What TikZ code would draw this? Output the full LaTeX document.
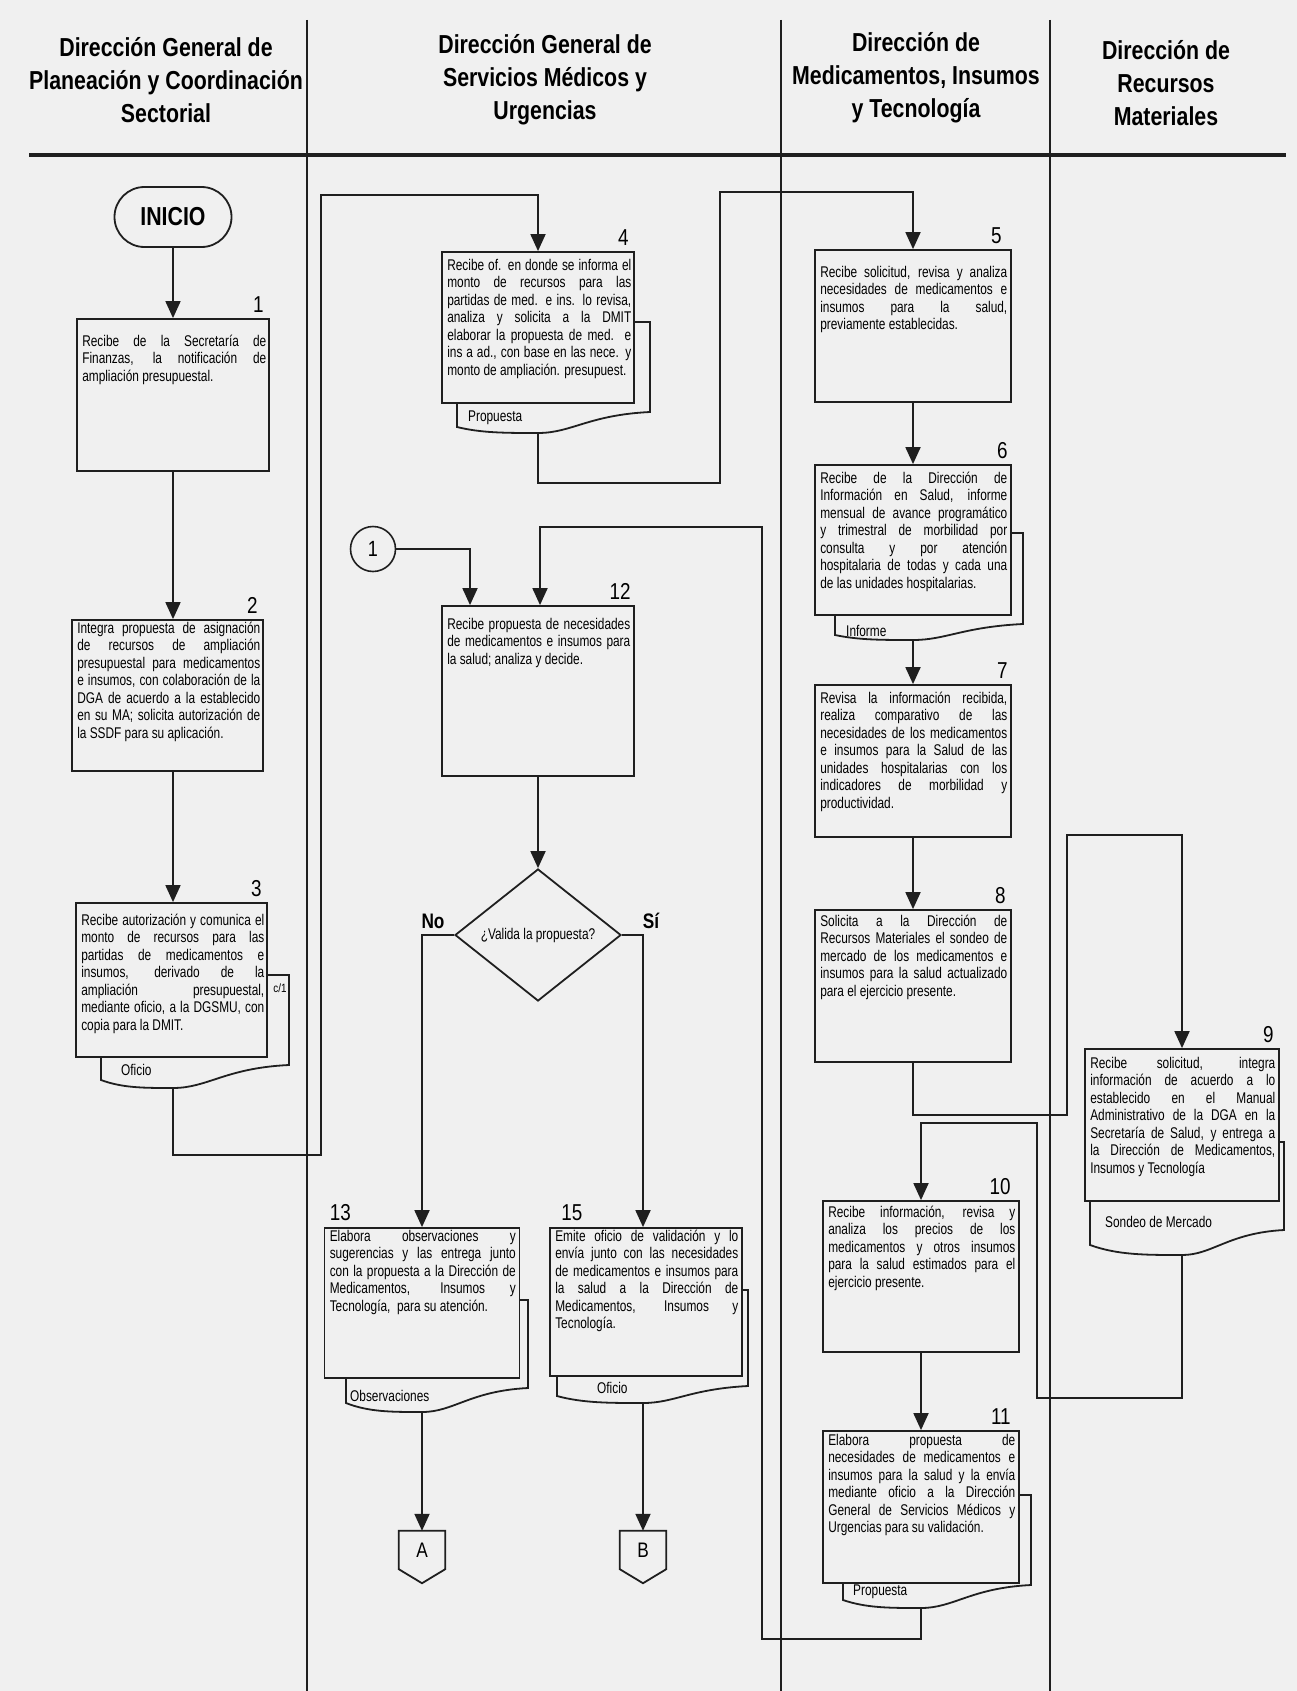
\documentclass[tikz,border=0pt]{standalone}
\usepackage{fontspec}
\setmainfont{Liberation Sans}
\newfontfamily\nf[FakeStretch=0.82]{Liberation Sans}
\newfontfamily\nfb[FakeStretch=0.765]{Liberation Sans}
\usetikzlibrary{arrows.meta,shapes.geometric}
\definecolor{lc}{gray}{0.12}
\definecolor{bg}{gray}{0.94}
\newcommand\bodyfont{\nfb\fontsize{15.5}{17.5}\selectfont}
\newcommand\jline[1]{\hbox to \hsize{\strut\spaceskip=0.21em plus 1fill minus 0.04em\relax #1}}
\newcommand\lastl[1]{\hbox{\strut #1}}
\newcommand\btext[4]{\node[txt] (#1t) at ([shift={(6,#2-12.25)}]#1.north west) {\vbox{\hsize=#3pt\relax #4}};}
\newcommand\docat[3]{\def\dbxr{#1}\def\dbby{#2}\def\dcx{#3}}
% name, dl, dr, dt, drb, dlb, dip
\newcommand\docshape[7]{%
  \draw[docl] (\dbxr,#4) -- (#3,#4) -- (#3,#5)
    .. controls ({\dcx+0.45*(#3-\dcx)},{#5+3}) and ({\dcx+0.3*(#3-\dcx)},#7) .. (\dcx,#7) coordinate (#1)
    .. controls ({\dcx-0.4*(\dcx-#2)},#7) and ({#2+0.3*(\dcx-#2)},#7) .. (#2,#6) -- (#2,\dbby);}
\tikzset{
  box/.style={draw=lc, line width=1.8pt, inner sep=0pt},
  txt/.style={inner sep=0pt, anchor=north west, font=\bodyfont},
  num/.style={inner sep=0pt, font=\nf\fontsize{23}{26}\selectfont},
  lbl/.style={inner sep=0pt, anchor=west, font=\bodyfont},
  head/.style={inner sep=0pt, align=center, font=\nf\bfseries\fontsize{26}{33}\selectfont},
  conn/.style={draw=lc, line width=1.8pt},
  arr/.style={conn, -{Triangle[length=17pt,width=15pt]}},
  docl/.style={draw=lc, line width=1.8pt},
  lane/.style={draw=lc, line width=1.5pt},
}
\begin{document}
\begin{tikzpicture}[x=1pt,y=-1pt]
\fill[bg] (0,0) rectangle (1297,1691);
\useasboundingbox (0,0) rectangle (1297,1691);

% lanes and header
\draw[lane] (307,20) -- (307,1691);
\draw[lane] (781,20) -- (781,1691);
\draw[lane] (1050,20) -- (1050,1691);
\draw[draw=lc, line width=4pt] (29,155) -- (1286,155);
\node[head] (h1) at (166,80) {Dirección General de\\Planeación y Coordinación\\Sectorial};
\node[head] (h2) at (545,80) {Dirección General de\\Servicios Médicos y\\Urgencias};
\node[head] (h3) at (916,78) {Dirección de\\Medicamentos, Insumos\\y Tecnología};
\node[head] (h4) at (1166,83) {Dirección de\\Recursos\\Materiales};

% start
\node[draw=lc, line width=1.8pt, rounded corners=30pt, minimum width=117pt, minimum height=60pt, inner sep=0pt, font=\nf\bfseries\fontsize{26}{30}\selectfont] (inicio) at (173,217) {INICIO};

% boxes
\node[box, minimum width=192pt, minimum height=152pt] (b1) at (173,395) {};
\node[box, minimum width=191pt, minimum height=151pt] (b2) at (167.5,695.5) {};
\node[box, minimum width=191pt, minimum height=154pt] (b3) at (171.5,980) {};
\node[box, minimum width=192pt, minimum height=151pt] (b4) at (538,327.5) {};
\node[box, minimum width=196pt, minimum height=152pt] (b5) at (913,326) {};
\node[box, minimum width=196pt, minimum height=150pt] (b6) at (913,540) {};
\node[box, minimum width=196pt, minimum height=152pt] (b7) at (913,761) {};
\node[box, minimum width=196pt, minimum height=152pt] (b8) at (913,986) {};
\node[box, minimum width=194pt, minimum height=152pt] (b9) at (1182,1125) {};
\node[box, minimum width=196pt, minimum height=151pt] (b10) at (921,1276.5) {};
\node[box, minimum width=196pt, minimum height=152pt] (b11) at (921,1507) {};
\node[box, minimum width=192pt, minimum height=170pt] (b12) at (538,691) {};
\node[box, minimum width=195pt, minimum height=150pt] (b13) at (422,1303) {};
\node[box, minimum width=192pt, minimum height=148pt] (b15) at (646,1302) {};

% numbers
\node[num, anchor=south east] (n1) at ([shift={(-6,-5)}]b1.north east) {1};
\node[num, anchor=south east] (n2) at ([shift={(-6,-5)}]b2.north east) {2};
\node[num, anchor=south east] (n3) at ([shift={(-6,-5)}]b3.north east) {3};
\node[num, anchor=south east] (n4) at ([shift={(-6,-5)}]b4.north east) {4};
\node[num, anchor=south east] (n5) at ([shift={(-10,-5)}]b5.north east) {5};
\node[num, anchor=south east] (n6) at ([shift={(-4,-5)}]b6.north east) {6};
\node[num, anchor=south east] (n7) at ([shift={(-4,-5)}]b7.north east) {7};
\node[num, anchor=south east] (n8) at ([shift={(-6,-5)}]b8.north east) {8};
\node[num, anchor=south east] (n9) at ([shift={(-6,-5)}]b9.north east) {9};
\node[num, anchor=south east] (n10) at ([shift={(-9,-5)}]b10.north east) {10};
\node[num, anchor=south east] (n11) at ([shift={(-9,-5)}]b11.north east) {11};
\node[num, anchor=south east] (n12) at ([shift={(-4,-5)}]b12.north east) {12};
\node[num, anchor=south west] (n13) at ([shift={(6,-6)}]b13.north west) {13};
\node[num, anchor=south west] (n15) at ([shift={(12,-6)}]b15.north west) {15};

% texts
\btext{b1}{28}{184}{\jline{Recibe de la Secretaría de}\jline{Finanzas, la notificación de}\lastl{ampliación presupuestal.}}
\btext{b2}{14}{183}{\jline{Integra propuesta de asignación}\jline{de recursos de ampliación}\jline{presupuestal para medicamentos}\jline{e insumos, con colaboración de la}\jline{DGA de acuerdo a la establecido}\jline{en su MA; solicita autorización de}\lastl{la SSDF para su aplicación.}}
\btext{b3}{23}{183}{\jline{Recibe autorización y comunica el}\jline{monto de recursos para las}\jline{partidas de medicamentos e}\jline{insumos, derivado de la}\jline{ampliación presupuestal,}\jline{mediante oficio, a la DGSMU, con}\lastl{copia para la DMIT.}}
\btext{b4}{19}{184}{\jline{Recibe of. en donde se informa el}\jline{monto de recursos para las}\jline{partidas de med. e ins. lo revisa,}\jline{analiza y solicita a la DMIT}\jline{elaborar la propuesta de med. e}\jline{ins a ad., con base en las nece. y}\lastl{monto de ampliación. presupuest.}}
\btext{b5}{28}{187}{\jline{Recibe solicitud, revisa y analiza}\jline{necesidades de medicamentos e}\jline{insumos para la salud,}\lastl{previamente establecidas.}}
\btext{b6}{19}{187}{\jline{Recibe de la Dirección de}\jline{Información en Salud, informe}\jline{mensual de avance programático}\jline{y trimestral de morbilidad por}\jline{consulta y por atención}\jline{hospitalaria de todas y cada una}\lastl{de las unidades hospitalarias.}}
\btext{b7}{19}{187}{\jline{Revisa la información recibida,}\jline{realiza comparativo de las}\jline{necesidades de los medicamentos}\jline{e insumos para la Salud de las}\jline{unidades hospitalarias con los}\jline{indicadores de morbilidad y}\lastl{productividad.}}
\btext{b8}{17}{187}{\jline{Solicita a la Dirección de}\jline{Recursos Materiales el sondeo de}\jline{mercado de los medicamentos e}\jline{insumos para la salud actualizado}\lastl{para el ejercicio presente.}}
\btext{b9}{20}{185}{\jline{Recibe solicitud, integra}\jline{información de acuerdo a lo}\jline{establecido en el Manual}\jline{Administrativo de la DGA en la}\jline{Secretaría de Salud, y entrega a}\jline{la Dirección de Medicamentos,}\lastl{Insumos y Tecnología}}
\btext{b10}{17}{187}{\jline{Recibe información, revisa y}\jline{analiza los precios de los}\jline{medicamentos y otros insumos}\jline{para la salud estimados para el}\lastl{ejercicio presente.}}
\btext{b11}{15}{187}{\jline{Elabora propuesta de}\jline{necesidades de medicamentos e}\jline{insumos para la salud y la envía}\jline{mediante oficio a la Dirección}\jline{General de Servicios Médicos y}\lastl{Urgencias para su validación.}}
\btext{b12}{24}{183}{\jline{Recibe propuesta de necesidades}\jline{de medicamentos e insumos para}\lastl{la salud; analiza y decide.}}
\btext{b13}{14}{186}{\jline{Elabora observaciones y}\jline{sugerencias y las entrega junto}\jline{con la propuesta a la Dirección de}\jline{Medicamentos, Insumos y}\lastl{Tecnología,\ \ para su atención.}}
\btext{b15}{14}{183}{\jline{Emite oficio de validación y lo}\jline{envía junto con las necesidades}\jline{de medicamentos e insumos para}\jline{la salud a la Dirección de}\jline{Medicamentos, Insumos y}\lastl{Tecnología.}}

% documents behind boxes
\docat{267}{1057}{173}\docshape{d3}{101}{289}{975}{1065}{1080}{1088}
\docat{634}{403}{538}\docshape{d4}{457}{650}{322}{412}{427}{433}
\docat{1011}{615}{913}\docshape{d6}{835}{1023}{533}{624}{635}{640}
\docat{1279}{1201}{1182}\docshape{d9}{1090}{1284}{1142}{1230}{1245}{1255}
\docat{1019}{1583}{921}\docshape{d11}{843}{1031}{1495}{1585}{1600}{1608}
\docat{519.5}{1378}{422}\docshape{d13}{346}{528}{1300}{1388}{1403}{1412}
\docat{742}{1376}{643}\docshape{d15}{557}{748}{1290}{1386}{1396}{1403}

\node[lbl] (l3) at (121,1070) {Oficio};
\node[inner sep=0pt, font=\nf\fontsize{12}{14}\selectfont] (l3c) at (280,988) {c/1};
\node[lbl] (l4) at (468,418) {Propuesta};
\node[lbl] (l6) at (846,631) {Informe};
\node[lbl] (l9) at (1105,1222) {Sondeo de Mercado};
\node[lbl] (l11) at (853,1592) {Propuesta};
\node[lbl] (l13) at (350,1396) {Observaciones};
\node[lbl] (l15) at (597,1388) {Oficio};

% decision and connectors
\node[draw=lc, line width=1.8pt, shape=diamond, aspect=1.26, minimum width=166pt, minimum height=132pt, inner sep=0pt, font=\bodyfont] (dia) at (538,935) {¿Valida la propuesta?};
\node[inner sep=0pt, font=\nf\bfseries\fontsize{21}{24}\selectfont] (no) at (433,921) {No};
\node[inner sep=0pt, font=\nf\bfseries\fontsize{21}{24}\selectfont] (si) at (651,921) {Sí};

\node[draw=lc, line width=1.6pt, circle, minimum size=45pt, inner sep=0pt, font=\nf\fontsize{22}{24}\selectfont] (c1) at (373,549) {1};

\node[minimum width=46pt, minimum height=38pt, inner sep=0pt, font=\nf\fontsize{21}{24}\selectfont] (A) at (422,1550) {A};
\node[minimum width=46pt, minimum height=38pt, inner sep=0pt, font=\nf\fontsize{21}{24}\selectfont] (B) at (643,1550) {B};
\draw[conn, line join=miter] (A.north west) -- (A.north east) -- (A.south east) -- ([yshift=-14pt]A.south) -- (A.south west) -- cycle;
\draw[conn, line join=miter] (B.north west) -- (B.north east) -- (B.south east) -- ([yshift=-14pt]B.south) -- (B.south west) -- cycle;

\coordinate (k13) at (470,549);
\coordinate (k12) at (540,527);
\coordinate (kno) at (422,935);
\coordinate (ksi) at (643,935);

\draw[arr] (inicio.south) -- (inicio.south |- b1.north);
\draw[arr] (b1.south) -- (b1.south |- b2.north);
\draw[arr] (b1.south |- b2.south) -- (b1.south |- b3.north);
\draw[arr] (d3) -- (173,1155) -- (321,1155) -- (321,195) -- (538,195) -- (b4.north);
\draw[arr] (d4) -- (538,483) -- (720,483) -- (720,192) -- (913,192) -- (b5.north);
\draw[arr] (b5.south) -- (b6.north);
\draw[arr] (d6) -- (b7.north);
\draw[arr] (b7.south) -- (b8.north);
\draw[arr] (b8.south) -- (913,1115) -- (1067,1115) -- (1067,835) -- (1182,835) -- (b9.north);
\draw[arr] (d9) -- (1182,1398) -- (1037,1398) -- (1037,1123) -- (921,1123) -- (b10.north);
\draw[arr] (b10.south) -- (b11.north);
\draw[arr] (d11) -- (921,1639) -- (762,1639) -- (762,527) -- (k12) -- (k12 |- b12.north);
\draw[arr] (c1.east) -- (k13) -- (k13 |- b12.north);
\draw[arr] (b12.south) -- (dia.north);
\draw[arr] (dia.west) -- (kno) -- (kno |- b13.north);
\draw[arr] (dia.east) -- (ksi) -- (ksi |- b15.north);
\draw[arr] (d13) -- (A.north);
\draw[arr] (d15) -- (B.north);
\end{tikzpicture}
\end{document}
